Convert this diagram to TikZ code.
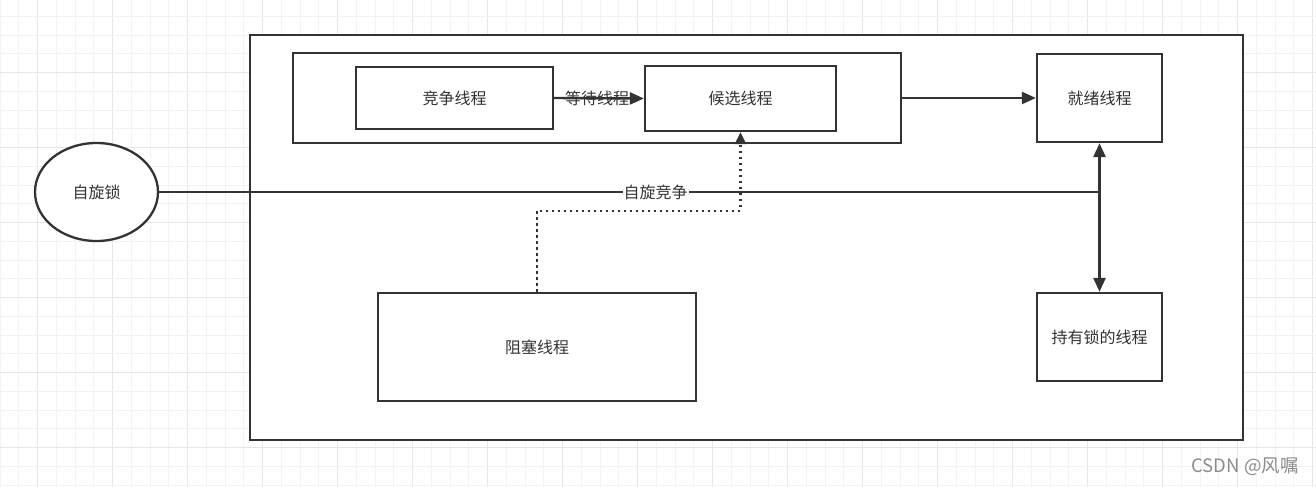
\documentclass[tikz,border=0pt]{standalone}
\usepackage{fontspec}
\setmainfont{Noto Sans CJK SC}
\usetikzlibrary{arrows.meta,shapes.geometric}
\definecolor{ink}{HTML}{333333}
\definecolor{gminor}{HTML}{F3F3F3}
\definecolor{gmajor}{HTML}{E6E6E6}
\begin{document}
\begin{tikzpicture}[x=1pt,y=-1pt,
  box/.style={draw=ink,line width=2.3pt,fill=white,inner sep=0pt,text=ink,font=\fontsize{16}{18}\selectfont},
  lbl/.style={text=ink,font=\fontsize{16}{18}\selectfont,inner sep=1pt},
  tip/.style={},
  conn/.style={draw=ink,line width=2.4pt,-{Triangle[length=14pt,width=12pt]}},
  dconn/.style={draw=ink,line width=2.6pt,{Triangle[length=14pt,width=12pt]}-{Triangle[length=14pt,width=12pt]}},
  thinconn/.style={draw=ink,line width=1.6pt},
  dotconn/.style={draw=ink,line width=2.4pt,dash pattern=on 2.4pt off 3.6pt,-{Triangle[length=12pt,width=11pt]}}]
\useasboundingbox (0,0) rectangle (1316,487);
\fill[white] (0,0) rectangle (1316,487);
\begin{scope}
\clip (0,0) rectangle (1316,487);
\foreach \k in {0,...,71} {
  \pgfmathtruncatemacro{\m}{mod(\k,4)}
  \ifnum\m=2 \def\gc{gmajor}\else\def\gc{gminor}\fi
  \draw[\gc,line width=1pt] ({0.2+18.75*\k},0) -- ({0.2+18.75*\k},487);
}
\foreach \k in {0,...,27} {
  \pgfmathtruncatemacro{\m}{mod(\k,4)}
  \ifnum\m=3 \def\gc{gmajor}\else\def\gc{gminor}\fi
  \draw[\gc,line width=1pt] (0,{16.45+18.75*\k}) -- (1316,{16.45+18.75*\k});
}
\end{scope}
\node[box,minimum width=993pt,minimum height=405pt] (outer) at (746.5,237.5) {};
\node[box,minimum width=608pt,minimum height=90pt] (group) at (597,98) {};
\node[box,minimum width=197pt,minimum height=62pt] (jz) at (454.5,98) {竞争线程};
\node[box,minimum width=191pt,minimum height=65pt] (hx) at (740.5,98.5) {候选线程};
\node[box,minimum width=125pt,minimum height=88pt] (jx) at (1099.5,98) {就绪线程};
\node[box,minimum width=125pt,minimum height=88pt] (cy) at (1099.5,337) {持有锁的线程};
\node[box,minimum width=318pt,minimum height=108pt] (zs) at (537,347) {阻塞线程};
\node[box,ellipse,minimum width=123pt,minimum height=98pt] (ell) at (96.5,192) {自旋锁};
\draw[conn] (jz.east) -- (hx.west) node[lbl,pos=0.48] {等待线程};
\draw[conn] (group.east) -- (jx.west |- group.east);
\draw[dconn] (jx.south) -- (cy.north);
\coordinate (junc) at (jx.south |- ell.east);
\draw[thinconn] (ell.east) -- (junc) node[lbl,fill=white,pos=0.528] {自旋竞争};
\draw[dotconn] (zs.north) -- ++(0,-81) -| (hx.south);
\node[text=black!45,font=\fontsize{18.5}{20}\selectfont,inner sep=0pt] (wm) at (1245,467) {CSDN @风嘱};
\end{tikzpicture}
\end{document}
